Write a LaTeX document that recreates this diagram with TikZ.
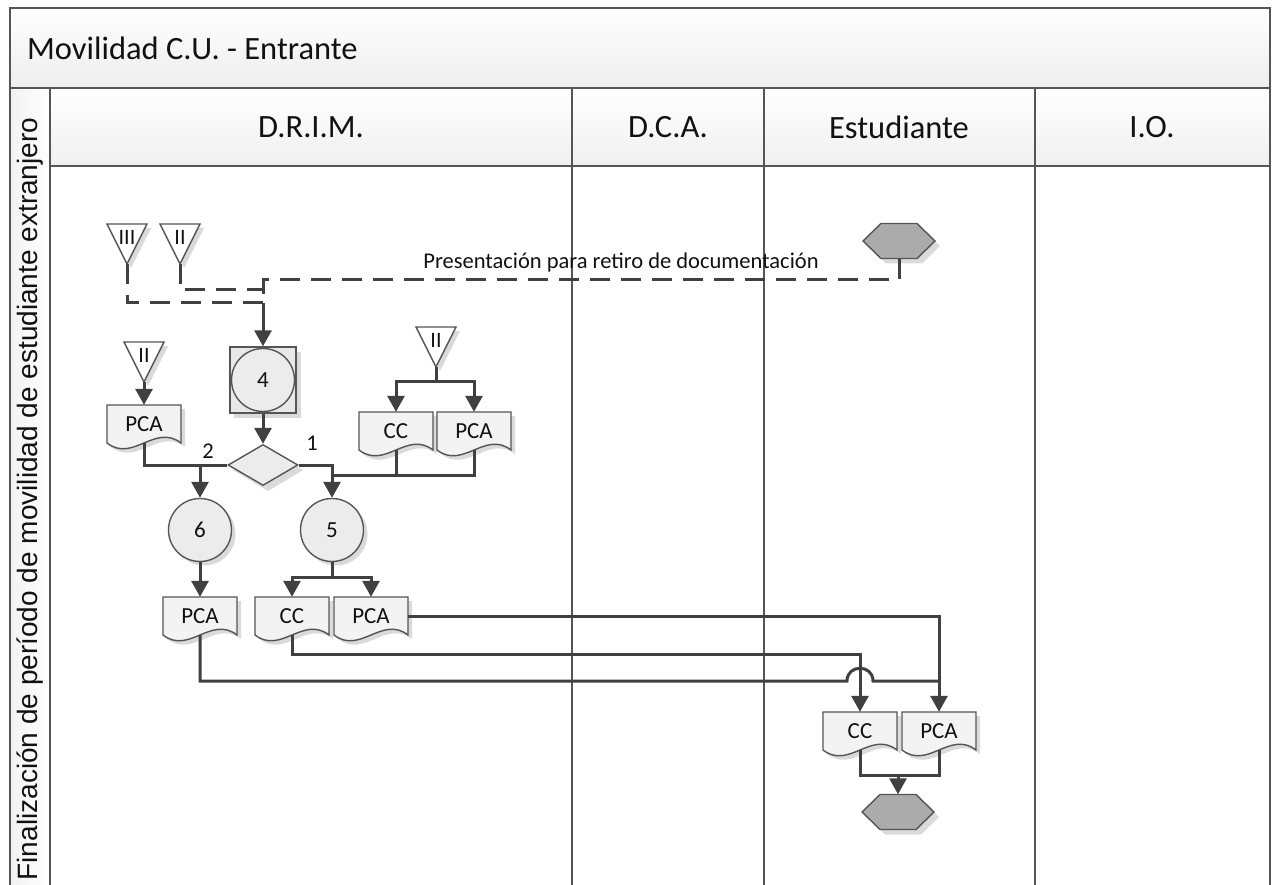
\documentclass[tikz,border=0pt]{standalone}
\usepackage{fontspec}
\setmainfont{Carlito}
\newfontfamily\arialf{Liberation Sans}
\usetikzlibrary{arrows.meta,calc,shapes.geometric}
\definecolor{lnc}{HTML}{404040}
\definecolor{bdc}{HTML}{555555}
\definecolor{shc}{HTML}{DADADA}
\definecolor{hexc}{HTML}{ABABAB}
\definecolor{txc}{HTML}{111111}
\definecolor{docf}{HTML}{F3F3F3}
\definecolor{circf}{HTML}{ECECEC}
\definecolor{sqf}{HTML}{E8E8E8}

\newcommand\docnode[4]{%
  \begin{scope}[shift={(#2,#3)}]
    \fill[shc] (-33,-15) -- (41,-15) -- (41,23) .. controls (15,3) and (-7,43) .. (-33,23) -- cycle;
    \filldraw[shp,fill=docf] (-37,-19) -- (37,-19) -- (37,19) .. controls (11,-1) and (-11,39) .. (-37,19) -- cycle;
  \end{scope}
  \node[doclabel] (#1) at (#2,#3) {#4};
}
\newcommand\trinode[4]{%
  \fill[shc] (#2-16,#3+4) -- (#2+24,#3+4) -- (#2+4,#3+44) -- cycle;
  \filldraw[shp,fill=white] (#2-20,#3) -- (#2+20,#3) -- (#2,#3+40) -- cycle;
  \node[trilabel] (#1) at (#2,#3+13) {#4};
  \coordinate (#1a) at (#2,#3+40);
}
\newcommand\hexnode[3]{%
  \fill[shc] (#2-31,#3+5) -- (#2-13,#3-12.5) -- (#2+23,#3-12.5) -- (#2+41,#3+5) -- (#2+23,#3+22.5) -- (#2-13,#3+22.5) -- cycle;
  \filldraw[shp,fill=hexc] (#2-36,#3) -- (#2-18,#3-17.5) -- (#2+18,#3-17.5) -- (#2+36,#3) -- (#2+18,#3+17.5) -- (#2-18,#3+17.5) -- cycle;
  \node[inner sep=0pt,minimum width=72pt,minimum height=35pt] (#1) at (#2,#3) {};
}

\begin{document}
\begin{tikzpicture}[x=1pt,y=-1pt,
  conn/.style={draw=lnc,line width=3pt},
  arr/.style={conn,-{Triangle[width=17pt,length=16pt]}},
  dconn/.style={conn,dash pattern=on 20pt off 11pt},
  lane/.style={draw=bdc,line width=2.5pt},
  shp/.style={draw=bdc,line width=1.4pt},
  doclabel/.style={inner sep=0pt,minimum width=74pt,minimum height=38pt,font=\fontsize{23}{25}\selectfont,text=txc},
  trilabel/.style={inner sep=0pt,font=\fontsize{22}{24}\selectfont,text=txc},
  small/.style={inner sep=0pt,font=\fontsize{22.5}{25}\selectfont,text=txc},
  head/.style={inner sep=0pt,font=\fontsize{32.5}{38}\selectfont,text=txc},
  circ/.style={circle,shp,fill=circf,minimum size=63pt,inner sep=0pt,font=\fontsize{23}{25}\selectfont,text=txc}
]
\useasboundingbox (0,0) rectangle (1278,885);

% bands
\shade[top color=white,bottom color=gray!14] (10,8) rectangle (1270,88);
\shade[left color=gray!10,right color=white] (10,88) rectangle (50,885);
\shade[top color=white,bottom color=gray!12] (50,88) rectangle (1270,166);

% lane lines
\draw[lane] (10,885) -- (10,8) -- (1270,8) -- (1270,885);
\draw[lane] (10,88) -- (1270,88);
\draw[lane] (50,166) -- (1270,166);
\foreach \xx in {50,572,764,1035} \draw[lane] (\xx,88) -- (\xx,885);

% texts of header
\node[head,anchor=west] (title) at (27,48) {Movilidad C.U. - Entrante};
\node[head] (hdrim) at (311,127) {D.R.I.M.};
\node[head] (hdca) at (668,127) {D.C.A.};
\node[head] (hest) at (899,127) {Estudiante};
\node[head] (hio) at (1152,127) {I.O.};
\node[rotate=90,inner sep=0pt,font=\arialf\fontsize{28}{32}\selectfont,text=txc] (vt) at (30,499)
  {Finalización de período de movilidad de estudiante extranjero};

% triangles
\trinode{t1}{127}{224}{III}
\trinode{t2}{180}{224}{II}
\trinode{t3}{144}{342}{II}
\trinode{t4}{436}{327}{II}

% hexagons
\hexnode{hexT}{899}{241}
\hexnode{hexB}{898}{812}

% step 4
\fill[shc] (234,352) rectangle (301,418);
\node[rectangle,shp,fill=sqf,minimum size=66pt,inner sep=0pt] (sq4) at (263,380) {};
\node[circ] (c4) at (263,380) {4};

% decision
\fill[shc] (233,470) -- (268,449) -- (303,470) -- (268,491) -- cycle;
\node[diamond,shp,fill=circf,minimum width=70pt,minimum height=41pt,inner sep=0pt] (dia) at (263,465) {};

% circles 6 and 5
\fill[shc] (204,534) circle (31.5pt);
\fill[shc] (336,534) circle (31.5pt);
\node[circ] (c6) at (200,530) {6};
\node[circ] (c5) at (332,530) {5};

% documents
\docnode{pcaA}{144}{424}{PCA}
\docnode{ccB}{396}{431}{CC}
\docnode{pcaB}{474}{431}{PCA}
\docnode{pcaC}{200}{616}{PCA}
\docnode{ccC}{292}{616}{CC}
\docnode{pcaD}{371}{616}{PCA}
\docnode{ccE}{860}{731}{CC}
\docnode{pcaE}{939}{731}{PCA}

% labels
\node[small] (l2) at (208,451) {2};
\node[small] (l1) at (312,443) {1};
\node[small] (lpres) at (621,263) {Presentación para retiro de documentación};

% connectors
\coordinate (jn) at (263,303);
\coordinate (j2) at (263,290);
\coordinate (j3) at (263,280);
\draw[dconn] (t1a) |- (jn);
\draw[dconn] (t2a) |- (j2);
\draw[dconn] (hexT.south) |- (j3) -- (jn);
\draw[arr] (jn) -- (sq4.north);
\draw[arr] (t3a) -- (pcaA.north);
\draw[arr] (sq4.south) -- (dia.north);

\coordinate (d2) at (200,465);
\coordinate (d1) at (332,465);
\draw[arr] (dia.west) -- (d2) -- (c6.north);
\draw[conn] (pcaA.south) |- (d2);
\draw[arr] (dia.east) -- (d1) -- (c5.north);

\coordinate (b1) at (436,382);
\draw[conn] (t4a) -- (b1);
\draw[arr] (b1) -| (ccB.north);
\draw[arr] (b1) -| (pcaB.north);
\coordinate (m1) at (332,475);
\draw[conn] (pcaB.south) |- (m1);
\draw[conn] (ccB.south) -- (ccB.south |- m1);

\draw[arr] (c6.south) -- (pcaC.north);
\coordinate (b2) at (332,577);
\draw[conn] (c5.south) -- (b2);
\draw[arr] (b2) -| (ccC.north);
\draw[arr] (b2) -| (pcaD.north);

\draw[arr] (pcaD.east) -| (pcaE.north);
\coordinate (r1) at (860,654);
\draw[arr] (ccC.south) |- (r1) -- (ccE.north);
\coordinate (h1) at (847,681);
\coordinate (h2) at (873,681);
\coordinate (h3) at (939,681);
\draw[conn] (pcaC.south) |- (h1) .. controls (847,664) and (873,664) .. (h2) -- (h3);

\coordinate (b3) at (898,775);
\draw[conn] (ccE.south) |- (b3) -| (pcaE.south);
\draw[arr] (b3) -- (hexB.north);
\end{tikzpicture}
\end{document}
